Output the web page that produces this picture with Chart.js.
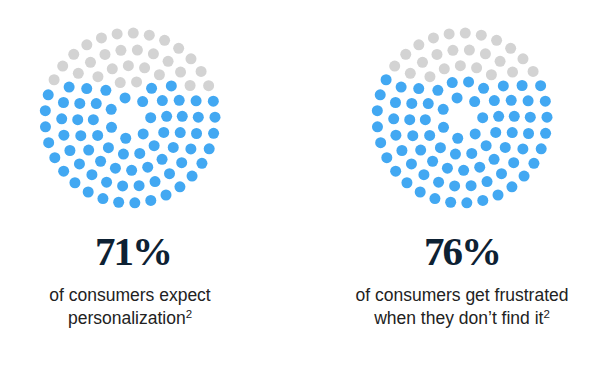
<!DOCTYPE html>
<html>
<head>
<meta charset="utf-8">
<script src="https://cdn.jsdelivr.net/npm/chart.js@4.4.1/dist/chart.umd.min.js"></script>
<style>
  body { margin: 0; background: #fff; width: 590px; height: 371px; overflow: hidden; position: relative; }
  .dots { position: absolute; top: 18px; width: 200px; height: 200px; }
  .big { position: absolute; width: 200px; text-align: center; top: 231px;
         font: bold 41px "Liberation Serif", serif; line-height: 41px; color: #0d2133; letter-spacing: -2px; }
  .sub { position: absolute; width: 300px; text-align: center; top: 284px;
         font: 17.5px "Liberation Sans", Arial, sans-serif; line-height: 23px; color: #222; }
  .sub sup { font-size: 11.5px; line-height: 0; vertical-align: 6px; }
</style>
</head>
<body>
<canvas id="c0" class="dots" width="200" height="200"></canvas>
<canvas id="c1" class="dots" width="200" height="200"></canvas>
<div id="b0" class="big"></div>
<div id="b1" class="big"></div>
<div id="s0" class="sub"></div>
<div id="s1" class="sub"></div>
<script>
// data
let percents = [71, 76];
let line1 = ["of consumers expect", "of consumers get frustrated"];
let line2 = ["personalization", "when they don\u2019t find it"];
let notes = ["2", "2"];

// dot layout: concentric rings, outer to inner (100 dots)
let ringR = [85, 68.3, 52.3, 36.7, 20.7];
let ringN = [33, 26, 20, 14, 7];
let ringOff = [2.2, 6.2, -1.8, 10.3, -13.8]; // degrees, clockwise from top
let centersX = [130, 462];

const BLUE = "#42a8f2";
const GREY = "#d3d3d3";

function ringDots() {
  let pts = [];
  for (let i = 0; i < ringR.length; i++) {
    for (let k = 0; k < ringN[i]; k++) {
      let a = (ringOff[i] + k * 360 / ringN[i]) * Math.PI / 180;
      pts.push({ x: ringR[i] * Math.sin(a), y: ringR[i] * Math.cos(a) });
    }
  }
  return pts;
}

function makeChart(idx) {
  let pts = ringDots();
  // fill from the bottom up: the topmost dots stay grey
  pts.sort((a, b) => b.y - a.y);
  let nBlue = Math.round(percents[idx] / 100 * pts.length);
  let grey = pts.slice(0, pts.length - nBlue);
  let blue = pts.slice(pts.length - nBlue);

  let cv = document.getElementById("c" + idx);
  cv.style.left = (centersX[idx] - 100) + "px";
  new Chart(cv, {
    type: "scatter",
    data: {
      datasets: [
        { data: blue, backgroundColor: BLUE, borderWidth: 0, pointRadius: 5.5 },
        { data: grey, backgroundColor: GREY, borderWidth: 0, pointRadius: 5.5 }
      ]
    },
    options: {
      responsive: false,
      animation: false,
      events: [],
      layout: { padding: 0, autoPadding: false },
      plugins: { legend: { display: false }, tooltip: { enabled: false } },
      scales: {
        x: { type: "linear", min: -100, max: 100, display: false },
        y: { type: "linear", min: -100, max: 100, display: false }
      }
    }
  });

  let b = document.getElementById("b" + idx);
  b.style.left = (centersX[idx] - 100 + (idx === 0 ? 3 : 0)) + "px";
  b.textContent = percents[idx] + "%";

  let s = document.getElementById("s" + idx);
  s.style.left = (centersX[idx] - 150) + "px";
  s.innerHTML = line1[idx] + "<br>" + line2[idx] + "<sup>" + notes[idx] + "</sup>";
}

makeChart(0);
makeChart(1);
</script>
</body>
</html>
